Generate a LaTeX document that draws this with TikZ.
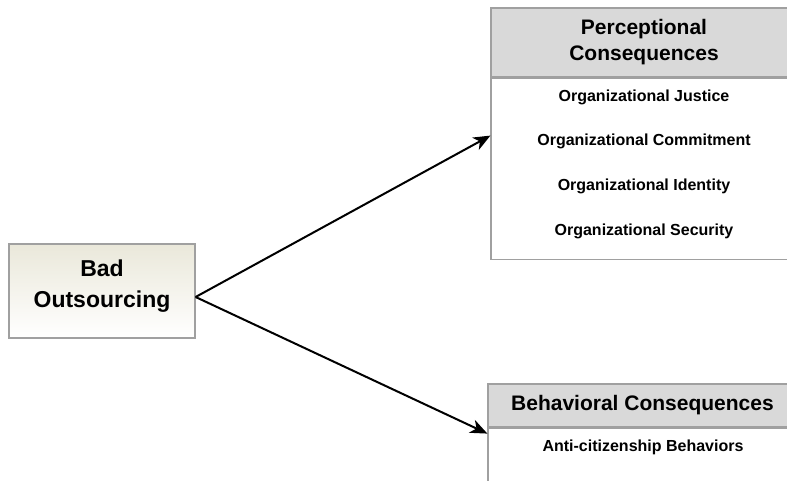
\documentclass[tikz,border=0pt]{standalone}
\usepackage{fontspec}
\setmainfont{Liberation Sans}
\usetikzlibrary{arrows.meta,positioning}
\definecolor{boxline}{RGB}{160,160,160}
\definecolor{headfill}{RGB}{217,217,217}
\definecolor{srctop}{RGB}{234,232,218}

\begin{document}
\begin{tikzpicture}[x=1pt,y=-1pt,
    srcbox/.style={draw=boxline,line width=1.2pt,top color=srctop,bottom color=white,
      minimum width=186pt,minimum height=94pt,inner sep=0pt},
    srctext/.style={align=center,inner sep=0pt,font=\fontsize{23}{31}\selectfont\bfseries},
    headbox/.style={draw=boxline,line width=1.2pt,fill=headfill,inner sep=0pt,align=center,
      font=\fontsize{21}{26}\selectfont\bfseries},
    bodybox/.style={draw=boxline,line width=1.2pt,fill=white,inner sep=0pt},
    item/.style={font=\fontsize{16}{19}\selectfont\bfseries},
    arrow/.style={-{Stealth[length=17pt,width=14pt,inset=5pt]},line width=2pt}]
    \useasboundingbox (0,0) rectangle (787,481);
    \clip (0,0) rectangle (787,481);

    % source
    \node[srcbox] (bad) at (102,291) {};
    \node[srctext] (badtext) at (102,286.5) {Bad\\Outsourcing};

    % perceptional consequences
    \node[headbox,minimum width=306pt,minimum height=69pt] (perchead) at (644,42.5)
        {Perceptional\\Consequences};
    \node[bodybox,minimum width=306pt,minimum height=181pt,below=0pt of perchead] (percbody) {};
    \node[item] (justice)    at (644,97)  {Organizational Justice};
    \node[item] (commitment) at (644,141) {Organizational Commitment};
    \node[item] (identity)   at (644,186) {Organizational Identity};
    \node[item] (security)   at (644,231) {Organizational Security};

    % behavioral consequences
    \node[headbox,minimum width=309pt,minimum height=43pt] (behavhead) at (642.5,405.5)
        {Behavioral Consequences};
    \node[bodybox,minimum width=309pt,minimum height=93pt,below=0pt of behavhead] (behavbody) {};
    \node[item] (anticitizen) at (643,447) {Anti-citizenship Behaviors};

    %
    \draw[arrow] ([yshift=-6pt]bad.east) -- ([yshift=-58pt]percbody.north west);
    \draw[arrow] ([yshift=-6pt]bad.east) -- ([yshift=-6pt]behavbody.north west);
\end{tikzpicture}
\end{document}
